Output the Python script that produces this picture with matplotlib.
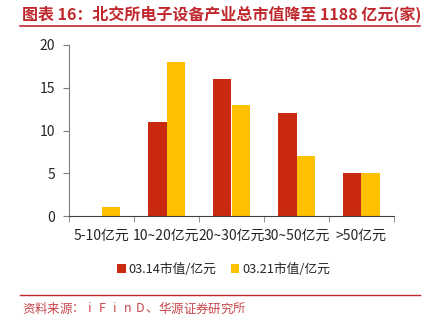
import matplotlib
matplotlib.use("Agg")
import matplotlib.pyplot as plt
from matplotlib.lines import Line2D
import numpy as np

plt.rcParams['font.family'] = ['Noto Sans CJK SC', 'DejaVu Sans']

categories = ["5-10亿元", "10~20亿元", "20~30亿元", "30~50亿元", ">50亿元"]
s1_name = "03.14市值/亿元"
s2_name = "03.21市值/亿元"
s1 = [0, 11, 16, 12, 5]
s2 = [1, 18, 13, 7, 5]
yticks = [0, 5, 10, 15, 20]
title = "图表 16：北交所电子设备产业总市值降至 1188 亿元(家)"
source = "资料来源：iFinD、华源证券研究所"

RED = "#C9290E"
YEL = "#FFC000"
TITLE_RED = "#C0282E"
SRC_RED = "#C8464A"
W, H = 430, 325

fig = plt.figure(figsize=(W / 100, H / 100), dpi=100)
ax = fig.add_axes([69 / W, 1 - 216 / H, (394 - 69) / W, (216 - 45) / H])

x = np.arange(len(categories))
bw = 0.29
ax.bar(x - bw / 2, s1, bw, color=RED, label=s1_name)
ax.bar(x + bw / 2, s2, bw, color=YEL, label=s2_name)

ax.set_xlim(-0.5, len(categories) - 0.5)
ax.set_ylim(0, 20)
ax.set_yticks(yticks)
ax.set_xticks(x)
ax.set_xticklabels(categories, fontsize=10, color="#262626")
ax.set_xticks(np.arange(len(categories) + 1) - 0.5, minor=True)
ax.tick_params(axis="x", which="major", length=0, pad=9)
ax.tick_params(axis="x", which="minor", length=4, color="#7f7f7f", direction="out")
ax.tick_params(axis="y", length=4, color="#7f7f7f", labelsize=10, labelcolor="#262626", pad=6)
for s in ["top", "right"]:
    ax.spines[s].set_visible(False)
ax.spines["left"].set_color("#7f7f7f")
ax.spines["bottom"].set_color("#404040")

ax.legend(loc="upper center", bbox_to_anchor=(0.5 - 8 / 325, -0.21), ncol=2, frameon=False,
          fontsize=9.2, handlelength=0.7, handleheight=0.7, handletextpad=0.2,
          columnspacing=1.1, labelcolor="#262626")

fig.text(22 / W, 1 - 14 / H, title,
         fontsize=11.5, fontweight="bold", color=TITLE_RED, va="center", ha="left")
fig.add_artist(Line2D([20 / W, 420 / W], [1 - 26 / H, 1 - 26 / H], color=TITLE_RED, lw=1.2,
                      transform=fig.transFigure))
fig.add_artist(Line2D([20 / W, 420 / W], [1 - 295 / H, 1 - 295 / H], color=TITLE_RED, lw=1.0,
                      transform=fig.transFigure))
# source line rendered with even character spacing (monospaced look)
step = 223 / len(source)
for i, ch in enumerate(source):
    fig.text((22 + i * step + step / 2) / W, 1 - 309 / H, ch,
             fontsize=9, color=SRC_RED, va="center", ha="center")

fig.savefig("out.png", dpi=100)
